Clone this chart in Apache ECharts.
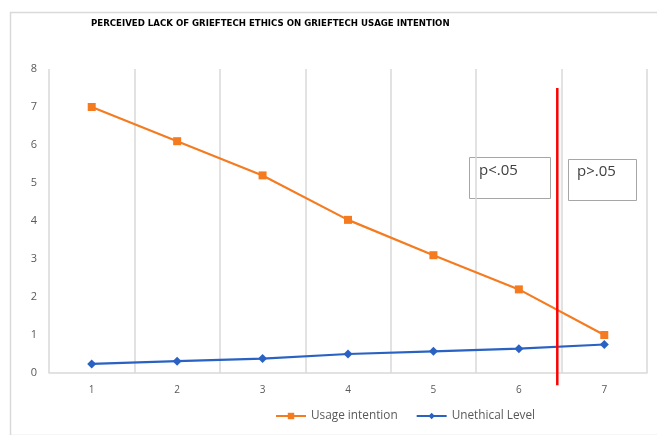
<!DOCTYPE html>
<html>
<head>
<meta charset="utf-8">
<script src="https://cdn.jsdelivr.net/npm/echarts@6/dist/echarts.min.js"></script>
<style>html,body{margin:0;padding:0;background:#fff;}#c{width:657px;height:435px;}</style>
</head>
<body>
<div id="c"></div>
<script>
const categories = ['1','2','3','4','5','6','7'];
const usageIntention = [7.0, 6.1, 5.2, 4.03, 3.1, 2.2, 1.0];
const unethicalLevel = [0.24, 0.31, 0.38, 0.5, 0.57, 0.64, 0.75];
const cutoffX = [6.45, 6.45];
const cutoffY = [7.5, -0.32];
const titleText = 'PERCEIVED LACK OF GRIEFTECH ETHICS ON GRIEFTECH USAGE INTENTION';

const chart = echarts.init(document.getElementById('c'));
chart.setOption({
  animation: false,
  backgroundColor: '#fff',
  title: {
    text: titleText, left: 86, top: 14,
    textStyle: {fontFamily: 'DejaVu Sans', fontWeight: 'bold', fontSize: 8.6, color: '#000'}
  },
  legend: {
    data: ['Usage intention', 'Unethical Level'],
    left: 270, top: 405, itemWidth: 30, itemHeight: 8, itemGap: 18,
    textStyle: {fontFamily: 'Open Sans', fontSize: 11.8, color: '#595959'}
  },
  grid: {left: 49, right: 10, top: 69, bottom: 62},
  xAxis: [{
    type: 'category', data: categories, boundaryGap: true,
    axisLine: {lineStyle: {color: '#d9d9d9', width: 1.5}},
    axisTick: {show: false},
    axisLabel: {color: '#595959', fontFamily: 'Open Sans', fontSize: 10, margin: 12},
    splitLine: {show: true, lineStyle: {color: '#d9d9d9', width: 1.5}}
  }, {
    type: 'value', min: 0.5, max: 7.5, show: false
  }],
  yAxis: {
    type: 'value', min: 0, max: 8, interval: 1,
    axisLine: {show: false}, axisTick: {show: false},
    splitLine: {show: false},
    axisLabel: {color: '#595959', fontFamily: 'Open Sans', fontSize: 11, margin: 12}
  },
  series: [{
    name: 'Usage intention', type: 'line', data: usageIntention,
    symbol: 'rect', symbolSize: 8,
    itemStyle: {color: '#F47B20'}, lineStyle: {color: '#F47B20', width: 2.2}
  }, {
    name: 'Unethical Level', type: 'line', data: unethicalLevel,
    symbol: 'diamond', symbolSize: 9,
    itemStyle: {color: '#2A62C4'}, lineStyle: {color: '#2A62C4', width: 2.2}
  }, {
    name: 'cutoff', type: 'line', xAxisIndex: 1, clip: false,
    data: cutoffX.map((x, i) => [x, cutoffY[i]]),
    symbol: 'none', lineStyle: {color: '#FF0000', width: 2.5}, silent: true
  }],
  graphic: [
    {type: 'rect', left: 8, top: 10, shape: {width: 660, height: 423},
     style: {fill: 'none', stroke: '#d9d9d9', lineWidth: 1.5}, silent: true},
    {type: 'rect', left: 469, top: 157, shape: {width: 81, height: 41},
     style: {fill: '#fff', stroke: '#a6a6a6', lineWidth: 1}},
    {type: 'text', left: 479, top: 163,
     style: {text: 'p<.05', fill: '#404040', font: '15px "Open Sans"'}},
    {type: 'rect', left: 568, top: 159, shape: {width: 68, height: 41},
     style: {fill: '#fff', stroke: '#a6a6a6', lineWidth: 1}},
    {type: 'text', left: 577, top: 164,
     style: {text: 'p>.05', fill: '#404040', font: '15px "Open Sans"'}}
  ]
});
</script>
</body>
</html>
